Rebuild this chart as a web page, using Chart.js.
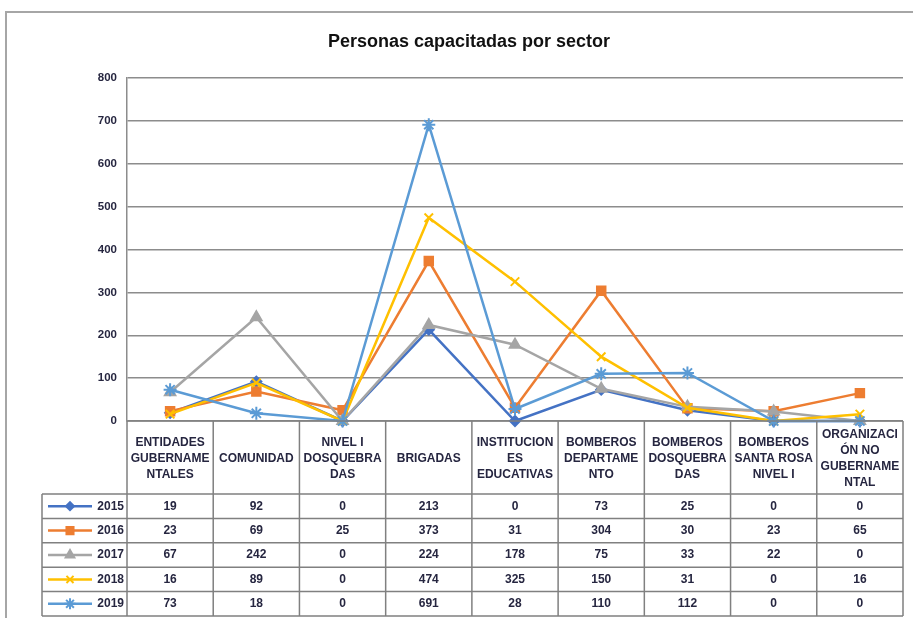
<!DOCTYPE html>
<html>
<head>
<meta charset="utf-8">
<script src="https://cdn.jsdelivr.net/npm/chart.js@4/dist/chart.umd.min.js"></script>
<style>
  html, body { margin: 0; padding: 0; background: #fff; }
  #wrap { width: 913px; height: 618px; position: relative; }
</style>
</head>
<body>
<div id="wrap"><canvas id="sectorChart" width="913" height="618"></canvas></div>
<script>
// data
const categories = [
    ['ENTIDADES', 'GUBERNAME', 'NTALES'],
    ['COMUNIDAD'],
    ['NIVEL I', 'DOSQUEBRA', 'DAS'],
    ['BRIGADAS'],
    ['INSTITUCION', 'ES', 'EDUCATIVAS'],
    ['BOMBEROS', 'DEPARTAME', 'NTO'],
    ['BOMBEROS', 'DOSQUEBRA', 'DAS'],
    ['BOMBEROS', 'SANTA ROSA', 'NIVEL I'],
    ['ORGANIZACI', 'ÓN NO', 'GUBERNAME', 'NTAL']
];
const years = ['2015', '2016', '2017', '2018', '2019'];
const v2015 = [19, 92, 0, 213, 0, 73, 25, 0, 0];
const v2016 = [23, 69, 25, 373, 31, 304, 30, 23, 65];
const v2017 = [67, 242, 0, 224, 178, 75, 33, 22, 0];
const v2018 = [16, 89, 0, 474, 325, 150, 31, 0, 16];
const v2019 = [73, 18, 0, 691, 28, 110, 112, 0, 0];
const yTicks = [0, 100, 200, 300, 400, 500, 600, 700, 800];
const chartTitle = 'Personas capacitadas por sector';

const seriesValues = [v2015, v2016, v2017, v2018, v2019];
const colors = ['#4472C4', '#ED7D31', '#A5A5A5', '#FFC000', '#5B9BD5'];
const markers = ['rectRot', 'rect', 'triangle', 'crossRot', 'star'];
const markerSize = [5, 6, 6, 6, 6.5];

const FONT = '"Liberation Sans", Arial, sans-serif';
const GRID = '#8c8c8c';
const TEXT = '#262640';

// frame, title and the table below the plot (drawn against the x scale)
const tablePlugin = {
    id: 'dataTable',
    beforeDraw(chart) {
        const ctx = chart.ctx;
        ctx.save();
        ctx.fillStyle = '#fff';
        ctx.fillRect(0, 0, chart.width, chart.height);
        // outer frame, cut off on the right and bottom
        ctx.strokeStyle = '#a6a6a6';
        ctx.lineWidth = 2;
        ctx.beginPath();
        ctx.moveTo(6, chart.height + 2);
        ctx.lineTo(6, 12);
        ctx.lineTo(chart.width + 2, 12);
        ctx.stroke();
        // title
        ctx.fillStyle = '#111';
        ctx.font = 'bold 18px ' + FONT;
        ctx.textAlign = 'center';
        ctx.textBaseline = 'middle';
        ctx.fillText(chartTitle, 469, 42);
        ctx.restore();
    },
    afterDraw(chart) {
        const ctx = chart.ctx;
        const x = chart.scales.x;
        const area = chart.chartArea;
        const n = categories.length;
        const cellW = (area.right - area.left) / n;
        const top = area.bottom;
        const headBottom = 494;
        const rowH = 24.4;
        const legendLeft = 42;
        const bottom = headBottom + rowH * years.length;

        ctx.save();
        ctx.strokeStyle = '#808080';
        ctx.lineWidth = 1.5;
        ctx.beginPath();
        // horizontal lines
        ctx.moveTo(area.left, top); ctx.lineTo(area.right, top);
        for (let r = 0; r <= years.length; r++) {
            const y = headBottom + r * rowH;
            ctx.moveTo(legendLeft, y); ctx.lineTo(area.right, y);
        }
        // vertical lines
        for (let c = 0; c <= n; c++) {
            const xx = area.left + c * cellW;
            ctx.moveTo(xx, top); ctx.lineTo(xx, bottom);
        }
        ctx.moveTo(legendLeft, headBottom); ctx.lineTo(legendLeft, bottom);
        ctx.stroke();

        ctx.fillStyle = TEXT;
        ctx.textAlign = 'center';
        ctx.textBaseline = 'middle';

        // header labels
        ctx.font = 'bold 12px ' + FONT;
        const headMid = (top + headBottom) / 2 + 1;
        categories.forEach(function(lines, i) {
            const cx = x.getPixelForValue(i);
            const start = headMid - (lines.length - 1) * 8;
            lines.forEach(function(line, k) {
                ctx.fillText(line, cx, start + k * 16);
            });
        });

        // rows: legend key + values
        years.forEach(function(year, r) {
            const cy = headBottom + r * rowH + rowH / 2;
            ctx.strokeStyle = colors[r];
            ctx.lineWidth = 2.5;
            ctx.beginPath();
            ctx.moveTo(48, cy); ctx.lineTo(92, cy);
            ctx.stroke();
            if (Chart.helpers && Chart.helpers.drawPoint) {
                ctx.fillStyle = colors[r];
                ctx.lineWidth = 2;
                Chart.helpers.drawPoint(ctx, {
                    pointStyle: markers[r],
                    radius: markerSize[r] - 1,
                    rotation: 0,
                    borderWidth: 2
                }, 70, cy);
            }
            ctx.fillStyle = TEXT;
            ctx.font = 'bold 12px ' + FONT;
            ctx.textAlign = 'right';
            ctx.fillText(year, 124, cy);
            ctx.textAlign = 'center';
            seriesValues[r].forEach(function(v, i) {
                ctx.fillText(String(v), x.getPixelForValue(i), cy);
            });
        });
        ctx.restore();
    }
};

window.onload = function() {
    var ctx = document.getElementById('sectorChart').getContext('2d');

    var datasets = years.map(function(year, i) {
        return {
            label: year,
            data: seriesValues[i],
            borderColor: colors[i],
            backgroundColor: colors[i],
            borderWidth: 2.5,
            pointStyle: markers[i],
            pointRadius: markerSize[i],
            pointHoverRadius: markerSize[i],
            pointBorderWidth: 2,
            pointBackgroundColor: colors[i],
            pointBorderColor: colors[i],
            tension: 0,
            clip: false,
            order: years.length - i   // 2019 on top like the original
        };
    });

    var config = {
        type: 'line',
        data: { labels: categories, datasets: datasets },
        plugins: [tablePlugin],
        options: {
            responsive: false,
            animation: false,
            layout: { padding: { left: 6, right: 10, top: 78, bottom: 197 } },
            scales: {
                x: {
                    display: false,
                    offset: true,
                    grid: { display: false }
                },
                y: {
                    min: yTicks[0],
                    max: yTicks[yTicks.length - 1],
                    afterBuildTicks: function(scale) {
                        scale.ticks = yTicks.map(function(v) { return { value: v }; });
                    },
                    afterFit: function(scale) { scale.width = 121; },
                    border: { display: true, color: GRID, width: 1.5 },
                    grid: { color: GRID, lineWidth: 1.5, drawTicks: false },
                    ticks: {
                        padding: 10,
                        color: TEXT,
                        font: { family: FONT, weight: 'bold', size: 11.5 }
                    }
                }
            },
            plugins: {
                legend: { display: false },
                tooltip: { enabled: false },
                title: { display: false }
            }
        }
    };

    var sectorChart = new Chart(ctx, config);
};
</script>
</body>
</html>
